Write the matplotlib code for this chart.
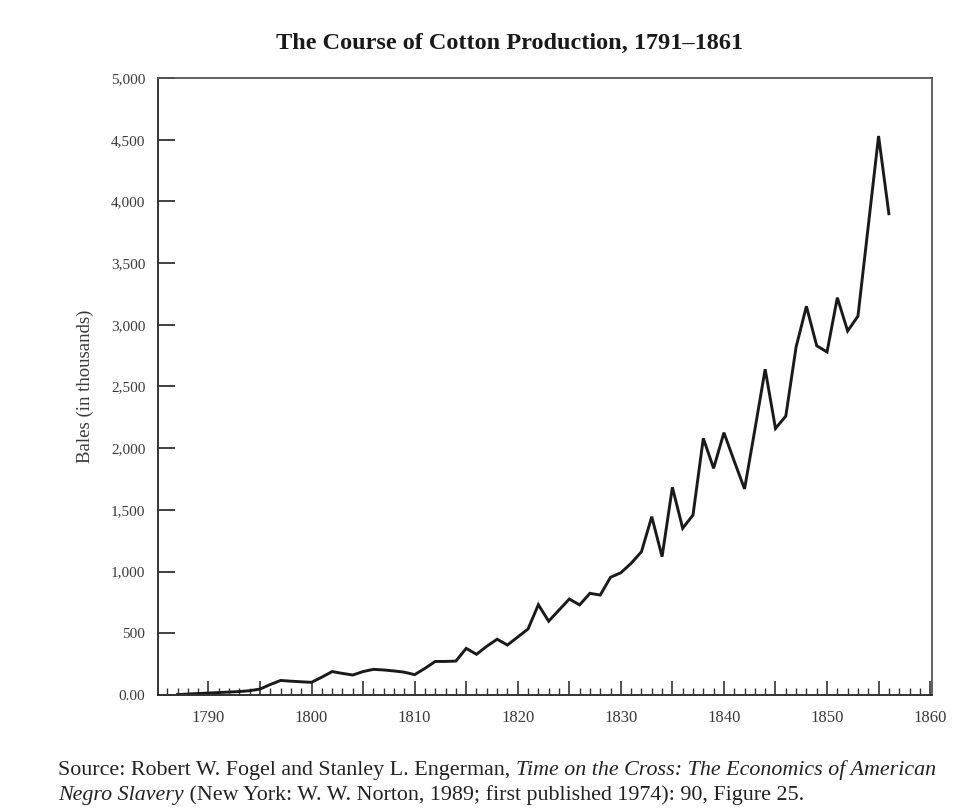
import matplotlib
matplotlib.use("Agg")
import matplotlib.pyplot as plt
from matplotlib.ticker import MultipleLocator, FuncFormatter

years = list(range(1787, 1857))
bales = [3, 8, 12, 16, 20, 24, 28, 35, 48, 85,
         118, 112, 107, 103, 145, 190, 175, 162, 190, 208,
         203, 195, 185, 165, 216, 272, 272, 275, 378, 330,
         395, 452, 405, 470, 535, 732, 598, 688, 778, 730,
         824, 810, 954, 991, 1067, 1161, 1445, 1121, 1683, 1351,
         1459, 2080, 1837, 2126, 1895, 1670, 2150, 2640, 2160, 2260,
         2820, 3150, 2830, 2780, 3220, 2950, 3070, 3800, 4530, 3900]

title = "The Course of Cotton Production, 1791\u20131861"
ylabel = "Bales (in thousands)"
xticks_labeled = [1790, 1800, 1810, 1820, 1830, 1840, 1850, 1860]
src1a = "Source: Robert W. Fogel and Stanley L. Engerman, "
src1b = "Time on the Cross: The Economics of American"
src2a = "Negro Slavery"
src2b = " (New York: W. W. Norton, 1989; first published 1974): 90, Figure 25."

plt.rcParams['font.family'] = ['Liberation Serif', 'DejaVu Serif']

fig = plt.figure(figsize=(9.63, 8.09), dpi=100)
ax = fig.add_axes([0.164, 0.1409, 0.804, 0.7627])

ax.plot(years, bales, color='#1a1a1a', lw=2.1, solid_joinstyle='miter')

ax.set_xlim(1785.1, 1860.2)
ax.set_ylim(0, 5000)

ax.xaxis.set_major_locator(MultipleLocator(5))
ax.xaxis.set_minor_locator(MultipleLocator(1))
ax.xaxis.set_major_formatter(FuncFormatter(
    lambda v, p: f"{int(round(v))}" if int(round(v)) in xticks_labeled else ""))
ax.yaxis.set_major_locator(MultipleLocator(500))
ax.yaxis.set_major_formatter(FuncFormatter(
    lambda v, p: "0.00" if v == 0 else f"{v:,.0f}"))

ax.tick_params(axis='x', which='major', direction='in', length=10, width=1.2,
               color='#333333', labelsize=12, labelcolor='#3a3a3a', pad=11,
               top=False)
ax.tick_params(axis='x', which='minor', direction='in', length=5, width=1.0,
               color='#333333', top=False)
ax.tick_params(axis='y', which='major', direction='in', length=12, width=1.3,
               color='#333333', labelsize=11, labelcolor='#3a3a3a', pad=9,
               right=False)

for side in ['left', 'bottom']:
    ax.spines[side].set_color('#333333')
    ax.spines[side].set_linewidth(1.4)
for side in ['top', 'right']:
    ax.spines[side].set_color('#555555')
    ax.spines[side].set_linewidth(1.3)

ax.set_ylabel(ylabel, fontsize=13.5, color='#3a3a3a', labelpad=12)

fig.text(510 / 963, 1 - 43 / 809, title, ha='center', va='center',
         fontsize=17.5, fontweight='bold', color='#1a1a1a')

t1 = fig.text(58 / 963, 1 - 780 / 809, src1a, ha='left', va='bottom',
              fontsize=15.8, color='#222222')
ax.annotate(src1b, xy=(1, 0), xycoords=t1, ha='left', va='bottom',
            fontsize=15.8, style='italic', color='#222222', annotation_clip=False)
t2 = fig.text(58 / 963, 1 - 805 / 809, src2a, ha='left', va='bottom',
              fontsize=15.8, style='italic', color='#222222')
ax.annotate(src2b, xy=(1, 0), xycoords=t2, ha='left', va='bottom',
            fontsize=15.8, color='#222222', annotation_clip=False)

fig.savefig("out.png", dpi=100, facecolor='white')
